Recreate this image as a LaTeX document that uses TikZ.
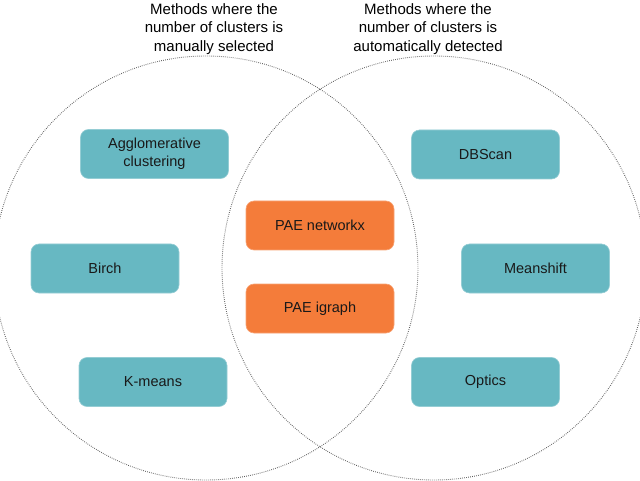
\documentclass[tikz,border=0pt]{standalone}
\usepackage{fontspec}
\setmainfont{Liberation Sans}
\usetikzlibrary{positioning,calc}
\definecolor{tealbox}{RGB}{103,184,194}
\definecolor{orangebox}{RGB}{244,124,58}
\tikzstyle{every node}+=[inner sep=0.5mm,font=\fontsize{14.5}{18}\selectfont]
\tikzstyle{method}=[rounded corners=8pt,minimum width=148pt,minimum height=49pt,align=center,text=black!90]
\tikzstyle{auto box}=[method,fill=tealbox,draw=tealbox!70!white,line width=0.6pt]
\tikzstyle{pae box}=[method,fill=orangebox,draw=orangebox!70!white,line width=0.6pt]
\tikzstyle{venn}=[draw=black!65,line width=0.9pt,dash pattern=on 0.7pt off 1.3pt]
\tikzstyle{heading}=[align=center,font=\fontsize{15}{18.5}\selectfont,text=black]

\begin{document}
\begin{tikzpicture}[x=1pt,y=-1pt]
    \useasboundingbox (0,0) rectangle (640,481);
    \newcommand{\rad}{212}

    % the two sets
    \coordinate (manual) at (206,268);
    \coordinate (detected) at (434,268);
    \draw[venn] (manual) circle (\rad);
    \draw[venn] (detected) circle (\rad);

    % headings
    \node[heading] (manualtitle) at (214,29) {Methods where the\\number of clusters is\\manually selected};
    \node[heading] (detectedtitle) at (428,29) {Methods where the\\number of clusters is\\automatically detected};

    % manually selected
    \node[auto box] (agglo) at (154.5,154) {Agglomerative\\clustering};
    \node[auto box] (birch) at (105,268.5) {Birch};
    \node[auto box] (kmeans) at (153,382) {K-means};

    % both
    \node[pae box] (networkx) at (320,225.5) {PAE networkx};
    \node[pae box] (igraph) at (320,308.5) {PAE igraph};

    % automatically detected
    \node[auto box] (dbscan) at (485.5,154.5) {DBScan};
    \node[auto box] (meanshift) at (535.5,268.5) {Meanshift};
    \node[auto box] (optics) at (485.5,382) {Optics};
\end{tikzpicture}
\end{document}
